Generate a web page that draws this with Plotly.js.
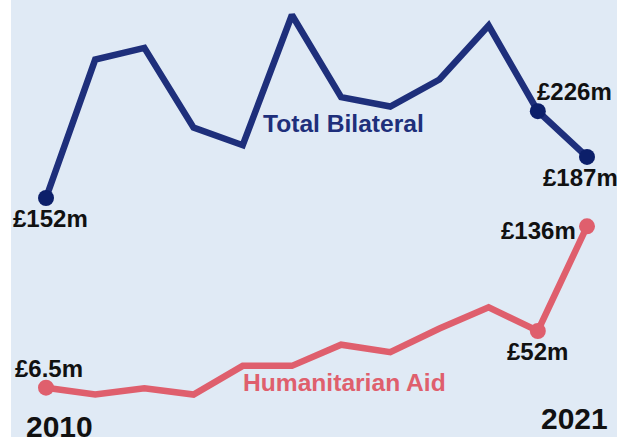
<!DOCTYPE html>
<html>
<head>
<meta charset="utf-8">
<script src="https://cdn.plot.ly/plotly-3.0.1.min.js"></script>
<style>html,body{margin:0;padding:0;background:#fff;}#chart{width:634px;height:437px;}</style>
</head>
<body>
<div id="chart"></div>
<script>
// Data
var years = [2010, 2011, 2012, 2013, 2014, 2015, 2016, 2017, 2018, 2019, 2020, 2021];
var bilateral = [152, 270, 280, 212, 197, 308, 238, 230, 253, 299, 226, 187];      // £m
var humanitarian = [6.5, 1, 6, 1, 24, 24, 41, 35, 54, 71, 52, 136];              // £m
var labelledIdx = [0, 10, 11];
var bilateralLabels = ['£152m', '£226m', '£187m'];
var humanitarianLabels = ['£6.5m', '£52m', '£136m'];
var seriesNames = ['Total Bilateral', 'Humanitarian Aid'];
var yearLabels = ['2010', '2021'];

var navy = '#1e2f7b', navyDot = '#0c1f6a', pink = '#df5f6d', bg = '#e0eaf5';
var markerSizes = years.map(function (y, i) { return labelledIdx.indexOf(i) >= 0 ? 16 : 0; });

var traces = [
  {x: years, y: bilateral, yaxis: 'y2', mode: 'lines+markers', name: seriesNames[0],
   line: {color: navy, width: 6.5}, marker: {color: navyDot, size: markerSizes, opacity: 1, line: {width: 0}}, hoverinfo: 'skip'},
  {x: years, y: humanitarian, yaxis: 'y', mode: 'lines+markers', name: seriesNames[1],
   line: {color: pink, width: 6.5}, marker: {color: pink, size: markerSizes, opacity: 1, line: {width: 0}}, hoverinfo: 'skip'}
];

var txt = {family: 'Liberation Sans, Arial, sans-serif', size: 24, color: '#111'};
function ann(vals, labs, j, yref, opt) {
  var a = {x: years[labelledIdx[j]], y: vals[labelledIdx[j]], xref: 'x', yref: yref, text: labs[j],
           showarrow: false, font: txt, xanchor: 'center', yanchor: 'middle'};
  for (var k in opt) a[k] = opt[k];
  return a;
}
var annotations = [
  ann(bilateral, bilateralLabels, 0, 'y2', {xshift: 4, yshift: -21}),
  ann(bilateral, bilateralLabels, 1, 'y2', {xanchor: 'left', xshift: -3, yshift: 20}),
  ann(bilateral, bilateralLabels, 2, 'y2', {xshift: -7, yshift: -21}),
  ann(humanitarian, humanitarianLabels, 0, 'y', {xshift: 3, yshift: 19}),
  ann(humanitarian, humanitarianLabels, 1, 'y', {xshift: 0, yshift: -21}),
  ann(humanitarian, humanitarianLabels, 2, 'y', {xanchor: 'right', xshift: -9, yshift: -4}),
  {xref: 'paper', yref: 'paper', x: 0.4125, y: 0.7185, xanchor: 'left', yanchor: 'middle', showarrow: false,
   text: seriesNames[0], font: {family: txt.family, size: 24.6, color: navy}},
  {xref: 'paper', yref: 'paper', x: 0.3795, y: 0.1236, xanchor: 'left', yanchor: 'middle', showarrow: false,
   text: seriesNames[1], font: {family: txt.family, size: 24.6, color: pink}},
  {xref: 'x', yref: 'paper', x: years[0], y: 0.024, xanchor: 'center', yanchor: 'middle', xshift: 13, showarrow: false,
   text: yearLabels[0], font: {family: txt.family, size: 30, color: '#111'}},
  {xref: 'x', yref: 'paper', x: years[years.length - 1], y: 0.043, xanchor: 'center', yanchor: 'middle', xshift: -13, showarrow: false,
   text: yearLabels[1], font: {family: txt.family, size: 30, color: '#111'}}
];
annotations.forEach(function (a) { a.font = Object.assign({}, a.font, {weight: 'bold'}); });

var layout = {
  width: 634, height: 437,
  margin: {l: 11, r: 17, t: 0, b: 0, pad: 0},
  paper_bgcolor: '#ffffff', plot_bgcolor: bg,
  showlegend: false,
  xaxis: {range: [2009.288, 2021.61], visible: false, fixedrange: true},
  yaxis: {range: [-33.1, 317.7], visible: false, fixedrange: true},
  yaxis2: {range: [-51.8, 320.8], visible: false, overlaying: 'y', fixedrange: true},
  annotations: annotations
};

Plotly.newPlot('chart', traces, layout, {displayModeBar: false, staticPlot: true});
</script>
</body>
</html>
